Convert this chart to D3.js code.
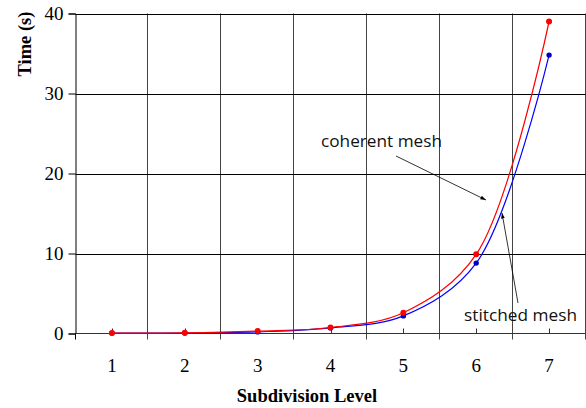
<!DOCTYPE html>
<html><head><meta charset="utf-8">
<script src="https://cdn.jsdelivr.net/npm/d3@7"></script>
<style>body{margin:0;background:#fff}</style>
</head><body>
<svg id="c" width="586" height="408"></svg>
<script>
const levels = [1,2,3,4,5,6,7];
const coherent = [0.05,0.08,0.3,0.75,2.6,9.9,39.0];
const stitched = [0.05,0.05,0.2,0.7,2.2,8.8,34.8];
const yTicks = [0,10,20,30,40];

const svg = d3.select("#c");
const L=75.5, R=585.5, T=13.5, B=333.5;
const x = d3.scaleBand().domain(levels).range([L,R]).paddingInner(0).paddingOuter(0);
const y = d3.scaleLinear().domain([0,40]).range([B,T]);
const cx = d => x(d)+x.bandwidth()/2;
const serif = "Liberation Serif, Times New Roman, serif";

// vertical grid
const bounds = levels.map(d=>x(d)).concat([x(7)+x.bandwidth()]);
svg.append("g").selectAll("line").data(bounds.slice(1)).join("line")
  .attr("x1",d=>Math.round(d)-0.5).attr("x2",d=>Math.round(d)-0.5)
  .attr("y1",T).attr("y2",B+6).attr("stroke","#444").attr("stroke-width",1);
// horizontal grid
svg.append("g").selectAll("line").data(yTicks.slice(1)).join("line")
  .attr("x1",L).attr("x2",R).attr("y1",d=>Math.round(y(d))+0.5).attr("y2",d=>Math.round(y(d))+0.5)
  .attr("stroke","#000");

// y axis
const ya = svg.append("g").attr("transform",`translate(${L},0)`)
  .call(d3.axisLeft(y).tickValues(yTicks).tickSize(7).tickPadding(5));
ya.select(".domain").attr("stroke","#000");
ya.selectAll("text").attr("font-family",serif).attr("font-size",19).attr("fill","#000");
// x axis line
svg.append("line").attr("x1",L).attr("x2",R).attr("y1",B).attr("y2",B).attr("stroke","#333");
svg.append("line").attr("x1",L).attr("x2",L).attr("y1",B).attr("y2",B+6).attr("stroke","#000");
// small inner ticks at category centers
svg.append("g").selectAll("line").data(levels).join("line")
  .attr("x1",d=>Math.round(cx(d))+0.5).attr("x2",d=>Math.round(cx(d))+0.5)
  .attr("y1",B).attr("y2",B-5).attr("stroke","#333");
svg.append("g").selectAll("text").data(levels).join("text")
  .attr("x",d=>cx(d)).attr("y",372).attr("text-anchor","middle")
  .attr("font-family",serif).attr("font-size",19).text(d=>d);

// axis titles
svg.append("text").attr("x",307).attr("y",402).attr("text-anchor","middle")
  .attr("font-family",serif).attr("font-weight","bold").attr("font-size",18.5)
  .text("Subdivision Level");
svg.append("text").attr("transform","translate(31,44) rotate(-90)").attr("text-anchor","middle")
  .attr("font-family",serif).attr("font-weight","bold").attr("font-size",18.5)
  .text("Time (s)");

// lines
const line = d3.line().x((d,i)=>cx(levels[i])).y(d=>y(d)).curve(d3.curveCatmullRom.alpha(0.5));
svg.append("path").attr("d",line(stitched)).attr("fill","none").attr("stroke","#0000ff").attr("stroke-width",1.2);
svg.append("path").attr("d",line(coherent)).attr("fill","none").attr("stroke","#ff0000").attr("stroke-width",1.2);
svg.append("g").selectAll("circle").data(stitched).join("circle")
  .attr("cx",(d,i)=>cx(levels[i])).attr("cy",d=>y(d)).attr("r",2.7).attr("fill","#0000c0");
svg.append("g").selectAll("circle").data(coherent).join("circle")
  .attr("cx",(d,i)=>cx(levels[i])).attr("cy",d=>y(d)).attr("r",3).attr("fill","#ff0000");

// annotations
svg.append("defs").append("marker").attr("id","ah").attr("viewBox","0 0 10 10").attr("refX",10).attr("refY",5)
  .attr("markerWidth",7).attr("markerHeight",7).attr("orient","auto")
  .append("path").attr("d","M0,1.5 L10,5 L0,8.5 Z").attr("fill","#000");
svg.append("line").attr("x1",396).attr("y1",156).attr("x2",486).attr("y2",200)
  .attr("stroke","#000").attr("stroke-width",0.8).attr("marker-end","url(#ah)");
svg.append("line").attr("x1",518).attr("y1",303).attr("x2",502).attr("y2",213)
  .attr("stroke","#000").attr("stroke-width",0.8).attr("marker-end","url(#ah)");
svg.append("text").attr("x",321).attr("y",147).attr("font-family","Open Sans, sans-serif").attr("font-size",17)
  .attr("textLength",121).attr("lengthAdjust","spacingAndGlyphs").attr("fill","#111").text("coherent mesh");
svg.append("text").attr("x",464).attr("y",321).attr("font-family","Open Sans, sans-serif").attr("font-size",17)
  .attr("textLength",113).attr("lengthAdjust","spacingAndGlyphs").attr("fill","#111").text("stitched mesh");
</script>
</body></html>
